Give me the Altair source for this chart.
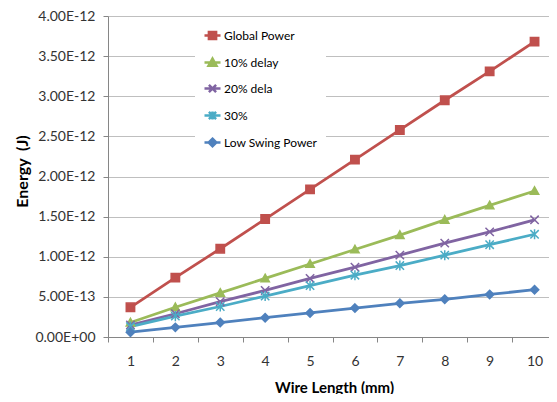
import altair as alt
import pandas as pd

series = ["Global Power", "10% delay", "20% dela", "30%", "Low Swing Power"]
lengths = [1, 2, 3, 4, 5, 6, 7, 8, 9, 10]
global_power = [0.37e-12, 0.74e-12, 1.10e-12, 1.47e-12, 1.84e-12, 2.21e-12, 2.58e-12, 2.95e-12, 3.31e-12, 3.68e-12]
delay10 = [0.18e-12, 0.37e-12, 0.55e-12, 0.73e-12, 0.91e-12, 1.09e-12, 1.27e-12, 1.46e-12, 1.64e-12, 1.82e-12]
delay20 = [0.15e-12, 0.29e-12, 0.44e-12, 0.58e-12, 0.73e-12, 0.87e-12, 1.02e-12, 1.17e-12, 1.31e-12, 1.46e-12]
delay30 = [0.13e-12, 0.26e-12, 0.38e-12, 0.51e-12, 0.64e-12, 0.77e-12, 0.89e-12, 1.02e-12, 1.15e-12, 1.28e-12]
low_swing = [0.06e-12, 0.12e-12, 0.18e-12, 0.24e-12, 0.30e-12, 0.36e-12, 0.42e-12, 0.47e-12, 0.53e-12, 0.59e-12]
y_ticks = [0, 0.5e-12, 1.0e-12, 1.5e-12, 2.0e-12, 2.5e-12, 3.0e-12, 3.5e-12, 4.0e-12]

colors = ["#C0504D", "#9BBB59", "#8064A2", "#4BACC6", "#4F81BD"]
marker_paths = [
    "M-1,-1L1,-1L1,1L-1,1Z",
    "M0,-1L1,0.8L-1,0.8Z",
    "M-1,-1L1,1M1,-1L-1,1",
    "M-1,-1L1,1M1,-1L-1,1M0,-1.2L0,1.2",
    "M0,-1L1,0L0,1L-1,0Z",
]
legend_paths = [
    "M-1,0L1,0M-0.45,-0.45L0.45,-0.45L0.45,0.45L-0.45,0.45Z",
    "M-1,0L1,0M0,-0.5L0.5,0.4L-0.5,0.4Z",
    "M-1,0L1,0M-0.45,-0.45L0.45,0.45M0.45,-0.45L-0.45,0.45",
    "M-1,0L1,0M-0.45,-0.45L0.45,0.45M0.45,-0.45L-0.45,0.45M0,-0.5L0,0.5",
    "M-1,0L1,0M0,-0.48L0.48,0L0,0.48L-0.48,0Z",
]

values = [global_power, delay10, delay20, delay30, low_swing]
rows = []
for s, vals in zip(series, values):
    for L, v in zip(lengths, vals):
        rows.append({"series": s, "length": L, "energy": v})
df = pd.DataFrame(rows)

FONT = "Lato"

x_enc = alt.X(
    "length:O",
    scale=alt.Scale(paddingInner=0, paddingOuter=0),
    axis=alt.Axis(
        title="Wire Length (mm)",
        labelAngle=0,
        tickBand="extent",
        grid=False,
        domainColor="#868686",
        tickColor="#868686",
        tickSize=5,
        labelPadding=12,
        labelFontSize=14,
        labelColor="#333333",
        labelFont=FONT,
        titleFont=FONT,
        titleFontSize=15,
        titleFontWeight="bold",
        titleColor="#000000",
        titleX=226,
        titleY=50,
        titleBaseline="middle",
    ),
)
y_enc = alt.Y(
    "energy:Q",
    scale=alt.Scale(domain=[0, 4e-12], nice=False),
    axis=alt.Axis(
        title="Energy \u00a0(J)",
        values=y_ticks,
        labelExpr="datum.value == 0 ? '0.00E+00' : replace(format(datum.value, '.2e'), 'e', 'E')",
        grid=True,
        gridColor="#BFBFBF",
        domainColor="#868686",
        tickColor="#868686",
        tickSize=5,
        labelPadding=8,
        labelFontSize=14,
        labelColor="#333333",
        labelFont=FONT,
        titleFont=FONT,
        titleFontSize=16,
        titleFontWeight="bold",
        titleColor="#000000",
        titleX=-86,
        titleY=155,
        titleAngle=-90,
        titleBaseline="middle",
        titleAlign="center",
    ),
)

lines = alt.Chart(df).mark_line(strokeWidth=2.75).encode(
    x=x_enc,
    y=y_enc,
    color=alt.Color("series:N", scale=alt.Scale(domain=series, range=colors), legend=None),
    detail="series:N",
)

points = alt.Chart(df).mark_point(filled=True, opacity=1, size=70, strokeWidth=1.5).encode(
    x=x_enc,
    y=y_enc,
    fill=alt.Fill("series:N", scale=alt.Scale(domain=series, range=colors), legend=None),
    stroke=alt.Stroke("series:N", scale=alt.Scale(domain=series, range=colors), legend=None),
    shape=alt.Shape("series:N", scale=alt.Scale(domain=series, range=marker_paths), legend=None),
)

leg = alt.Legend(
    title=None,
    orient="none",
    legendX=87,
    legendY=2,
    padding=8,
    fillColor="#FFFFFF",
    symbolSize=256,
    symbolStrokeWidth=2.5,
    rowPadding=8,
    labelOffset=2,
    labelFont=FONT,
    labelFontSize=12,
    labelColor="#000000",
)

legend_layer = alt.Chart(df).transform_filter("false").mark_point(filled=True, opacity=1).encode(
    x=x_enc,
    y=y_enc,
    fill=alt.Fill("series:N", scale=alt.Scale(domain=series, range=colors), legend=leg),
    stroke=alt.Stroke("series:N", scale=alt.Scale(domain=series, range=colors), legend=leg),
    shape=alt.Shape("series:N", scale=alt.Scale(domain=series, range=legend_paths), legend=leg),
)

chart = alt.layer(lines, points, legend_layer).resolve_scale(
    fill="independent", stroke="independent", shape="independent"
).properties(
    width=449,
    height=321,
    padding={"left": 100, "top": 8, "right": -8, "bottom": 57},
    autosize=alt.AutoSizeParams(type="none"),
).configure_view(stroke=None)

chart.save("out.html", embed_options={"renderer": "svg", "actions": False})
